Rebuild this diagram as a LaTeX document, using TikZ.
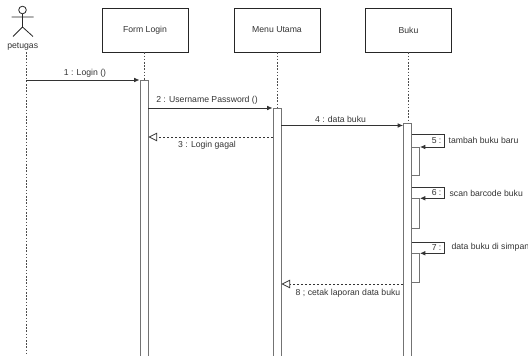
\documentclass[tikz,border=0pt]{standalone}
\usepackage{fontspec}
\setmainfont{Liberation Sans}
\usetikzlibrary{arrows.meta,calc}
\begin{document}
\begin{tikzpicture}[x=0.75pt,y=-0.75pt,
 every node/.style={font=\fontsize{6.5}{7.5}\selectfont, text=black!80},
 obj/.style={draw=black!85, line width=0.6pt, minimum width=64.5pt, minimum height=33pt, inner sep=0pt},
 life/.style={draw=black!70, line width=0.5pt, dash pattern=on 1.2pt off 1.2pt},
 bar/.style={draw=black!55, fill=white, line width=0.7pt, minimum width=6pt, inner sep=0pt, anchor=north},
 msg/.style={draw=black!80, line width=0.6pt, -{Latex[length=4pt,width=3.5pt]}},
 ret/.style={draw=black!80, line width=0.6pt, dash pattern=on 1.5pt off 1.5pt, -{Triangle[open,length=6.5pt,width=6.5pt]}},
 stick/.style={draw=black!85, line width=0.6pt},
 lbl/.style={inner sep=1pt}]
\useasboundingbox (0,0) rectangle (528,356);
\clip (0,0) rectangle (528,356);
\coordinate (bot) at (0,362);

% actor
\node[stick, circle, minimum size=5.7pt, inner sep=0pt] (head) at (22.5,10) {};
\coordinate (neck) at (22.5,14);
\coordinate (hip) at (22.5,27);
\coordinate (armL) at (11.5,17);
\coordinate (armR) at (33.5,17);
\coordinate (legL) at (13,36.5);
\coordinate (legR) at (33,36.5);
\draw[stick] (head.south) -- (hip) (armL) -- (armR) (legL) -- (hip) -- (legR);
\node[lbl] (pet) at (22.7,47) {petugas};
\coordinate (plife) at (26,52);
\draw[life] (plife) -- (plife |- bot);

% objects
\node[obj] (fl) at (145,30) {Form Login};
\node[obj] (mu) at (277,30) {Menu Utama};
\node[obj] (bk) at (408.5,30) {Buku};
\draw[life] ([xshift=-0.75pt]fl.south) -- ([xshift=-0.75pt]fl.south |- bot);
\draw[life] (mu.south) -- (mu.south |- bot);
\draw[life] ([xshift=-0.4pt]bk.south) -- ([xshift=-0.4pt]bk.south |- bot);

% activation bars
\node[bar, minimum height=210pt] (flbar) at (144,80) {};
\node[bar, minimum height=189pt] (mubar) at (277,108) {};
\node[bar, minimum height=178pt] (bkbar) at (407.5,123) {};
\node[bar, minimum height=21pt] (n5) at (415.5,147) {};
\node[bar, minimum height=22.5pt] (n6) at (415.5,198.3) {};
\node[bar, minimum height=21.5pt] (n7) at (415.5,253.3) {};

% messages
\coordinate (p1) at (26,80);
\draw[msg] (p1 |- flbar.north) -- (flbar.north west);
\node[lbl] (l1) at (85,73) {1 : Login ()};

\draw[msg] (flbar.east |- mubar.north) -- (mubar.north west);
\node[lbl] (l2) at (207,100) {2 : Username Password ()};

\coordinate (m3) at (0,137);
\draw[ret] (mubar.west |- m3) -- (flbar.east |- m3);
\node[lbl] (l3) at (207,145.7) {3 : Login gagal};

\coordinate (m4) at (0,125.5);
\draw[msg] (mubar.east |- m4) -- (bkbar.west |- m4);
\node[lbl] (l4) at (340.5,119) {4 : data buku};

% self messages
\coordinate (s5) at (444,134);
\draw[msg] (bkbar.east |- s5) -- (s5) -- (s5 |- n5.north) -- (n5.north east);
\node[lbl, anchor=east] (l5a) at (443,140.7) {5 :};
\node[lbl, anchor=west] (l5b) at (447,140.7) {tambah buku baru};

\coordinate (s6) at (444,187.3);
\draw[msg] (bkbar.east |- s6) -- (s6) -- (s6 |- n6.north) -- (n6.north east);
\node[lbl, anchor=east] (l6a) at (443,193) {6 :};
\node[lbl, anchor=west] (l6b) at (448,193) {scan barcode buku};

\coordinate (s7) at (444,242.7);
\draw[msg] (bkbar.east |- s7) -- (s7) -- (s7 |- n7.north) -- (n7.north east);
\node[lbl, anchor=east] (l7a) at (443,247.5) {7 :};
\node[lbl, anchor=west] (l7b) at (450,247.5) {data buku di simpan};

\coordinate (m8) at (0,284);
\draw[ret] (bkbar.west |- m8) -- (mubar.east |- m8);
\node[lbl] (l8) at (348,293.3) {8 ; cetak laporan data buku};
\end{tikzpicture}
\end{document}
